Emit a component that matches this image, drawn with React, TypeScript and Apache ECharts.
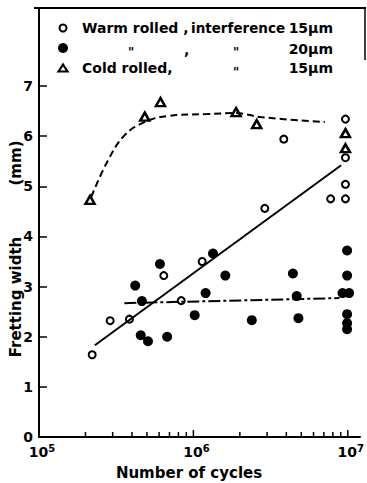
import React, { useEffect, useRef } from "react";
import * as echarts from "echarts";

// Warm rolled, interference 15 µm (open circles)
const warm15Cycles = [2.21e5, 2.89e5, 3.85e5, 6.43e5, 8.34e5, 1.14e6, 2.9e6, 3.85e6, 7.74e6, 9.66e6, 9.66e6, 9.66e6, 9.66e6];
const warm15Width = [1.64, 2.32, 2.35, 3.22, 2.72, 3.5, 4.56, 5.94, 4.75, 4.75, 5.04, 5.57, 6.34];

// Warm rolled, interference 20 µm (filled circles)
const warm20Cycles = [4.2e5, 4.64e5, 4.56e5, 5.08e5, 6.07e5, 6.76e5, 1.02e6, 1.2e6, 1.34e6, 1.61e6, 2.39e6, 4.41e6, 4.67e6, 4.79e6, 9.9e6, 9.9e6, 9.25e6, 1.02e7, 9.9e6, 9.9e6, 9.9e6];
const warm20Width = [3.02, 2.71, 2.03, 1.91, 3.45, 2.0, 2.43, 2.87, 3.66, 3.22, 2.33, 3.26, 2.81, 2.37, 3.72, 3.22, 2.87, 2.87, 2.45, 2.27, 2.15];

// Cold rolled, interference 15 µm (triangles)
const coldCycles = [2.14e5, 4.84e5, 6.12e5, 1.89e6, 2.57e6, 9.66e6, 9.66e6];
const coldWidth = [4.73, 6.39, 6.68, 6.48, 6.24, 6.06, 5.76];

// Fitted curves
const coldCurveCycles = [2.18e5, 2.8e5, 3.59e5, 4.82e5, 6.76e5, 1.22e6, 1.89e6, 2.73e6, 7.1e6];
const coldCurveWidth = [4.79, 5.52, 6.02, 6.28, 6.4, 6.44, 6.46, 6.38, 6.28];
const warm15FitCycles = [2.3e5, 9.06e6];
const warm15FitWidth = [1.83, 5.42];
const warm20FitCycles = [3.57e5, 8.83e6];
const warm20FitWidth = [2.67, 2.77];

// Axis
const yTicks = [0, 1, 2, 3, 4, 5, 6, 7];
const decades = [1e5, 1e6];
const multipliers = [1, 2, 3, 4, 5, 6, 7, 8, 9];
const xTicks: number[] = [];
decades.forEach((d) => multipliers.forEach((m) => xTicks.push(m * d)));
xTicks.push(1e7);

const FONT = "DejaVu Sans";

const zip = (a: number[], b: number[]) => a.map((v, i) => [v, b[i]]);

export default function App() {
  const ref = useRef<HTMLDivElement>(null);
  useEffect(() => {
    if (!ref.current) return;
    const chart = echarts.init(ref.current, null, { renderer: "svg" });
    const txt = (x: number, y: number, text: string, align = "left", size = 14) => ({
      type: "text",
      x,
      y,
      style: {
        text,
        fill: "#000",
        font: `bold ${size}px "${FONT}"`,
        textAlign: align,
        textVerticalAlign: "middle",
      },
    });
    chart.setOption({
      animation: false,
      backgroundColor: "#fff",
      grid: { left: 39, right: 2, top: 8, bottom: 46, containLabel: false },
      xAxis: {
        type: "log",
        logBase: 10,
        min: 1e5,
        max: 1.2e7,
        axisLine: { show: true, lineStyle: { color: "#000", width: 2 } },
        axisTick: { show: false },
        splitLine: { show: false },
        minorTick: { show: false },
        minorSplitLine: { show: false },
        axisLabel: {
          showMaxLabel: false,
          margin: 6,
          formatter: (v: number) => {
            const l = Math.log10(v);
            const e = Math.round(l);
            if (Math.abs(l - e) > 1e-6) return "";
            return `{b|10}{s|${e}}`;
          },
          rich: {
            b: { fontFamily: FONT, fontWeight: "bold", fontSize: 14, color: "#000", padding: [0, 0, 0, 6], lineHeight: 16, verticalAlign: "bottom" },
            s: { fontFamily: FONT, fontWeight: "bold", fontSize: 10, color: "#000", lineHeight: 16, verticalAlign: "top", padding: [0, 0, 6, 0] },
          },
        },
      },
      yAxis: {
        type: "value",
        min: 0,
        max: 8.556,
        axisLine: { show: true, lineStyle: { color: "#000", width: 2 } },
        axisTick: { show: true, inside: true, length: 8, customValues: yTicks, lineStyle: { color: "#000", width: 1.5 } },
        splitLine: { show: false },
        axisLabel: {
          customValues: yTicks,
          margin: 6,
          color: "#000",
          fontFamily: FONT,
          fontWeight: "bold",
          fontSize: 14,
        },
      },
      graphic: [
        { type: "line", shape: { x1: 34, y1: 8, x2: 366, y2: 8 }, style: { stroke: "#000", lineWidth: 2 } },
        { type: "line", shape: { x1: 365, y1: 8, x2: 365, y2: 60 }, style: { stroke: "#000", lineWidth: 1.5 } },
        { type: "circle", shape: { cx: 63, cy: 28, r: 3.5 }, style: { fill: "#fff", stroke: "#000", lineWidth: 2 } },
        { type: "circle", shape: { cx: 63, cy: 48, r: 5 }, style: { fill: "#000" } },
        { type: "polygon", shape: { points: [[63, 64.5], [67.5, 71.5], [58.5, 71.5]] }, style: { fill: "#fff", stroke: "#000", lineWidth: 2.2 } },
        txt(82, 28, "Warm rolled ,"),
        txt(191, 28, "interference", "left", 13.5),
        txt(333, 28, "15µm", "right"),
        txt(128, 52, '"', "left", 12),
        txt(184, 50, ","),
        txt(233, 52, '"', "left", 12),
        txt(333, 49, "20µm", "right"),
        txt(82, 68, "Cold rolled,"),
        txt(233, 72, '"', "left", 12),
        txt(333, 68, "15µm", "right"),
        {
          type: "text",
          x: 16,
          y: 297,
          rotation: Math.PI / 2,
          style: { text: "Fretting width", fill: "#000", font: `bold 15px "${FONT}"`, textAlign: "center", textVerticalAlign: "middle" },
        },
        {
          type: "text",
          x: 16,
          y: 163,
          rotation: Math.PI / 2,
          style: { text: "(mm)", fill: "#000", font: `bold 15px "${FONT}"`, textAlign: "center", textVerticalAlign: "middle" },
        },
        txt(189, 473, "Number of cycles", "center", 15),
      ],
      series: [
        {
          type: "custom",
          data: xTicks.map((v) => [v]),
          clip: false,
          silent: true,
          renderItem: (params: any, api: any) => {
            const v = api.value(0);
            const p = api.coord([v, 0]);
            const l = Math.log10(v);
            const major = Math.abs(l - Math.round(l)) < 1e-6;
            return {
              type: "line",
              shape: { x1: p[0], y1: p[1], x2: p[0], y2: p[1] - (major ? 7 : 5) },
              style: { stroke: "#000", lineWidth: 1.5 },
            };
          },
        },
        {
          type: "line",
          data: zip(coldCurveCycles, coldCurveWidth),
          smooth: 0.4,
          showSymbol: false,
          symbol: "none",
          lineStyle: { color: "#000", width: 2, type: [7, 4] },
        },
        {
          type: "line",
          data: zip(warm15FitCycles, warm15FitWidth),
          symbol: "none",
          lineStyle: { color: "#000", width: 2 },
        },
        {
          type: "line",
          data: zip(warm20FitCycles, warm20FitWidth),
          symbol: "none",
          lineStyle: { color: "#000", width: 2, type: [12, 3, 3, 3] },
        },
        {
          type: "scatter",
          data: zip(warm20Cycles, warm20Width),
          symbol: "circle",
          symbolSize: 10,
          itemStyle: { color: "#000", opacity: 1 },
        },
        {
          type: "scatter",
          data: zip(warm15Cycles, warm15Width),
          symbol: "circle",
          symbolSize: 7,
          itemStyle: { color: "#fff", borderColor: "#000", borderWidth: 2, opacity: 1 },
        },
        {
          type: "scatter",
          data: zip(coldCycles, coldWidth),
          symbol: "triangle",
          symbolSize: [9, 8],
          itemStyle: { color: "#fff", borderColor: "#000", borderWidth: 2.5, opacity: 1 },
        },
      ],
    });
    return () => chart.dispose();
  }, []);
  return <div ref={ref} style={{ width: 367, height: 483, position: "absolute", left: 0, top: 0 }} />;
}
